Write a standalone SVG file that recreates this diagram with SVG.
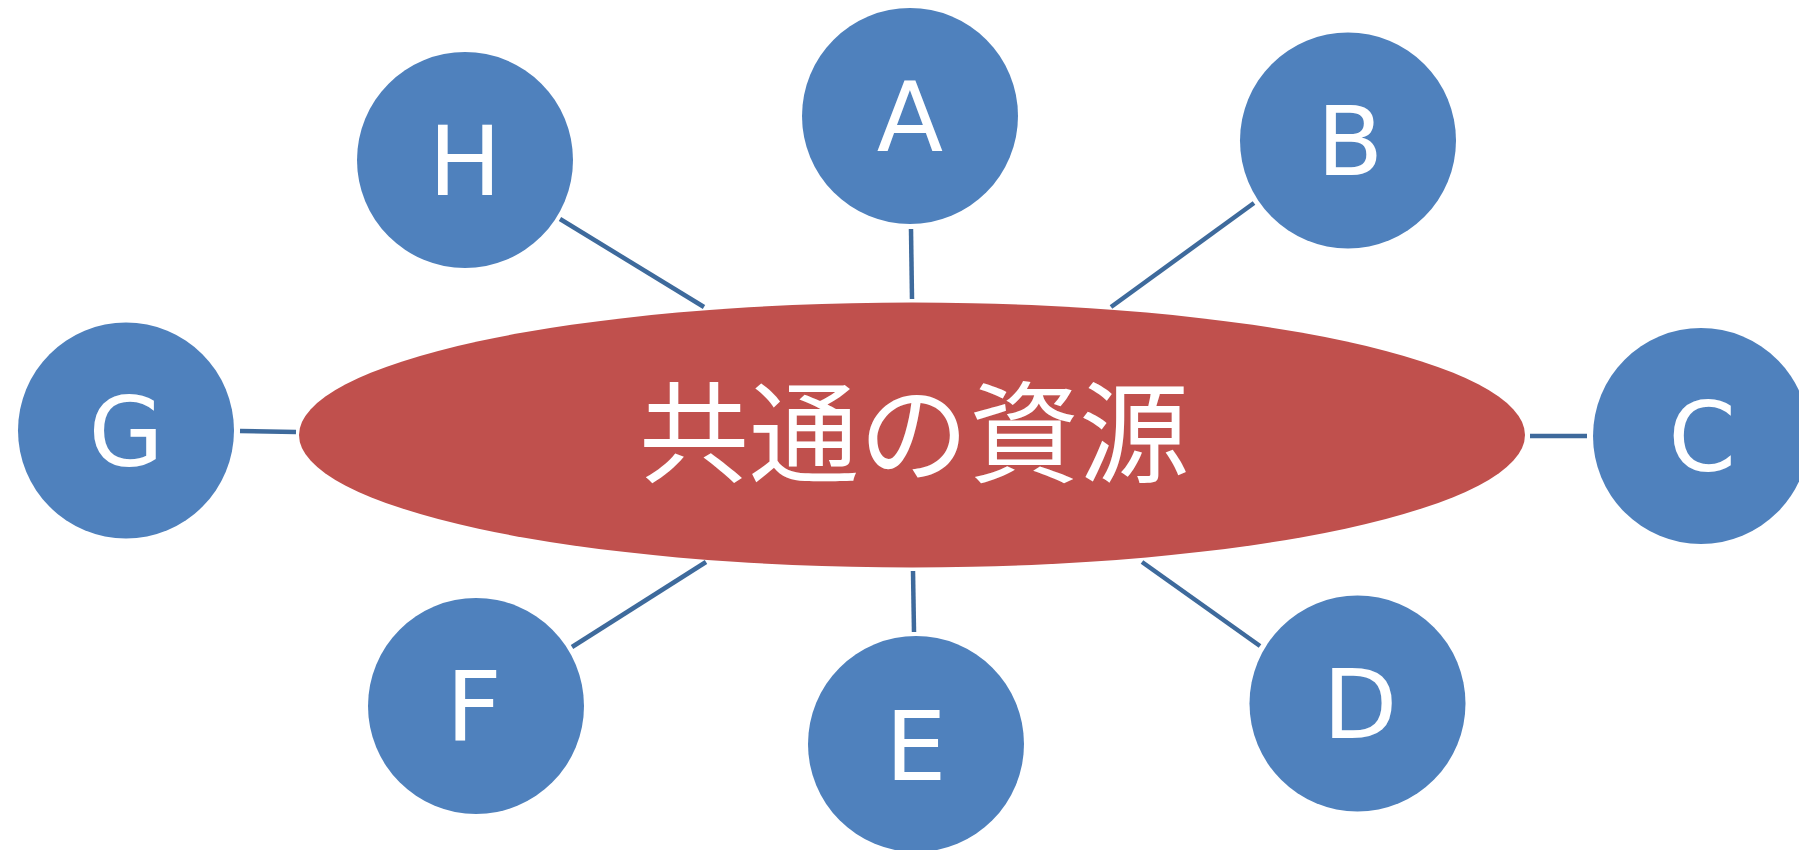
<svg xmlns="http://www.w3.org/2000/svg" width="1799" height="850" viewBox="0 0 1799 850">
<style>
.node circle{fill:#4f81bd}
.lbl{font-family:"DejaVu Sans",Verdana,sans-serif;font-size:97px;fill:#fff;text-anchor:middle}
.conn line{stroke:#3e6a9c;stroke-width:4.5}
.center-txt{font-family:"Noto Sans CJK JP","Noto Sans CJK SC",sans-serif;font-size:110px;fill:#fff;text-anchor:middle}
</style>
<rect width="1799" height="850" fill="#fff"/>
<g id="connectors" class="conn">
<line x1="911" y1="229" x2="912" y2="299"/>
<line x1="1254" y1="203" x2="1111" y2="307"/>
<line x1="1530" y1="436" x2="1587" y2="436"/>
<line x1="1260" y1="646" x2="1142" y2="562"/>
<line x1="914" y1="632" x2="913" y2="571"/>
<line x1="572" y1="647" x2="706" y2="562"/>
<line x1="240" y1="431" x2="296" y2="432"/>
<line x1="560" y1="219" x2="704" y2="307"/>
</g>
<g id="center">
<ellipse cx="912" cy="435" rx="613" ry="132.5" fill="#c0504d"/>
<text class="center-txt" x="914" y="474">共通の資源</text>
</g>
<g id="A" class="node"><circle cx="910" cy="116" r="108"/><text class="lbl" x="910" y="151">A</text></g>
<g id="B" class="node"><circle cx="1348" cy="140.5" r="108"/><text class="lbl" x="1350" y="175">B</text></g>
<g id="C" class="node"><circle cx="1701" cy="436" r="108"/><text class="lbl" x="1702" y="471">C</text></g>
<g id="D" class="node"><circle cx="1357.5" cy="703.5" r="108"/><text class="lbl" x="1360" y="738">D</text></g>
<g id="E" class="node"><circle cx="916" cy="744" r="108"/><text class="lbl" x="916" y="780">E</text></g>
<g id="F" class="node"><circle cx="476" cy="706" r="108"/><text class="lbl" x="474" y="741">F</text></g>
<g id="G" class="node"><circle cx="126" cy="430.5" r="108"/><text class="lbl" x="126" y="466">G</text></g>
<g id="H" class="node"><circle cx="465" cy="160" r="108"/><text class="lbl" x="465" y="195">H</text></g>
</svg>
